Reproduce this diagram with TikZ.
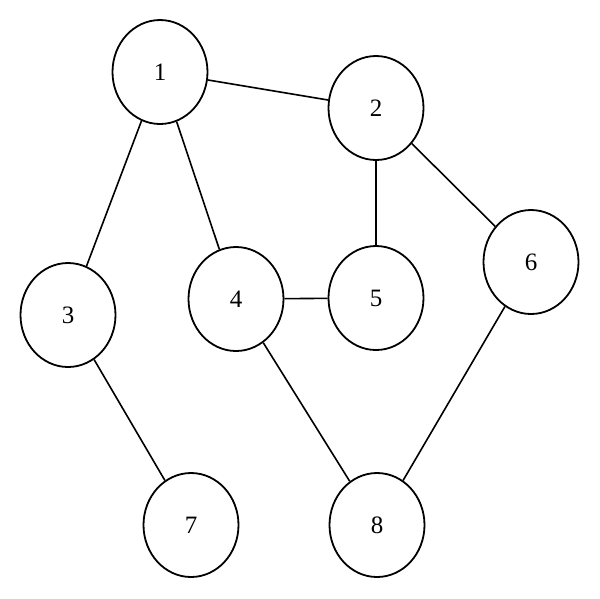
\documentclass[tikz,border=0pt]{standalone}
\usepackage{fontspec}
\setmainfont{Liberation Serif}
\usetikzlibrary{shapes.geometric}
\begin{document}
\begin{tikzpicture}[x=1pt, y=-1pt,
    vertex/.style={draw, ellipse, line width=1.8pt, minimum width=95pt, minimum height=104pt,
      inner sep=0pt, font=\fontsize{25}{28}\selectfont},
    edge/.style={line width=1.6pt}]
  \useasboundingbox (0,0) rectangle (600,598);
  \node[vertex] (v1) at (160,72) {1};
  \node[vertex] (v2) at (376,108) {2};
  \node[vertex] (v3) at (68,315) {3};
  \node[vertex] (v4) at (236,299) {4};
  \node[vertex] (v5) at (376,298) {5};
  \node[vertex] (v6) at (531,262) {6};
  \node[vertex] (v7) at (191,525) {7};
  \node[vertex] (v8) at (377,525) {8};
  \draw[edge] (v1) -- (v2);
  \draw[edge] (v1) -- (v3);
  \draw[edge] (v1) -- (v4);
  \draw[edge] (v2) -- (v5);
  \draw[edge] (v2) -- (v6);
  \draw[edge] (v4) -- (v5);
  \draw[edge] (v3) -- (v7);
  \draw[edge] (v4) -- (v8);
  \draw[edge] (v6) -- (v8);
\end{tikzpicture}
\end{document}
